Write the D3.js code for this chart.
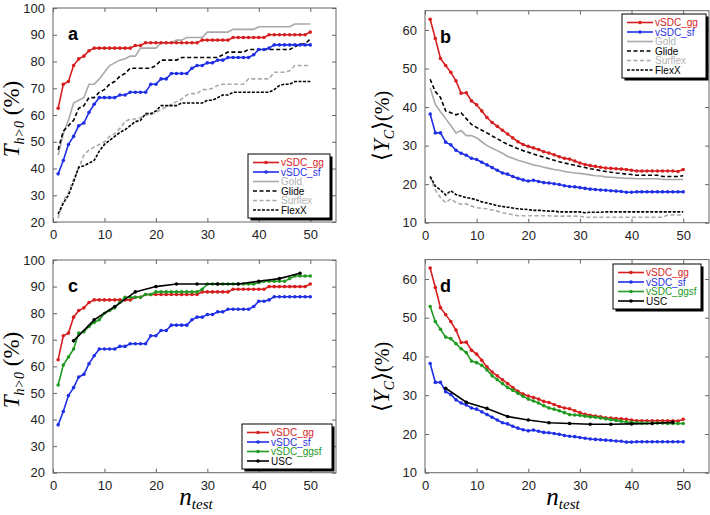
<!DOCTYPE html>
<html><head><meta charset="utf-8">
<script src="https://cdn.jsdelivr.net/npm/d3@7"></script>
<style>body{margin:0;background:#fff}svg{display:block}</style>
</head><body>
<svg id="c" width="710" height="515"></svg>
<script>
// ---------- DATA ----------
const nTest = d3.range(1, 51);
const uscN = [4, 8, 12, 16, 20, 24, 28, 32, 36, 40, 44, 48];

// Panel a / c : T_{h>0} (%)
const thGG = [62.5,71.5,72.5,78.5,81,82,84,85,85,85,85,85,85,85,85,86,86,87,87,87,87,87,87,87,87,87,87,87,88,88,88,88,88,88,89,89,89,89,89,89,89,90,90,90,90,90,90,90,90,91];
const thSF = [38,43,49,52,56,57,61,64,66.5,66.5,66.5,66.5,67.5,67.5,68.5,68.5,68.5,68.5,71.5,71.5,73.5,73.5,75.5,75.5,75.5,75.5,77.5,78.5,78.5,79.5,79.5,80.5,80.5,81.5,81.5,81.5,81.5,81.5,82.5,84.5,84.5,85,86.2,86.2,86.2,86.2,86.2,86.2,86.2,86.2];
const thGold = [45,53,58,64.5,65.5,66.5,71.5,71.5,73.5,76,78.5,79.5,80.5,81,82,82,85,85,85,85,87,87,87,88,88,89,89,89,89,91,91,91,91,91,92,92,92,92,92,93,93,93,93,93,93,93,94,94,94,94];
const thGlide = [47,54,56,58,62.5,63.5,66.5,66.5,68.5,69.5,71.5,72.5,74.5,75.5,77.5,77.5,77.5,77.5,77.5,78.5,80.5,80.5,80.5,80.5,81.5,81.5,81.5,81.5,81.5,81.5,81.5,81.5,82.5,83.5,83.5,83.5,83.5,84.5,84.5,84.5,84.5,84.5,84.5,84.5,84.5,84.5,85.5,86.5,86.5,88.5];
const thSurflex = [21.5,28,31,36,40,45,47,48,49,50,52,53,55,57.5,58.5,58.5,59,60,60,61,62,63,64,65,66,67.5,68,68,69.5,69.5,70,71,71.5,71.5,71.5,71.5,71.5,73.5,73.5,73.5,73.5,73.5,76,76,76,76.5,78.5,78.5,78.5,78.5];
const thFlexX = [23,27,30,35,40.5,41,42,43,46.5,49,50.5,52,53.5,54.5,56,57.5,58,60.5,60.5,61.5,63.5,63.5,63.5,63.5,64.5,64.5,64.5,64.5,64.5,65.5,65.5,66.5,67.5,67.5,68.5,68.5,68.5,68.5,68.5,68.5,68.5,68.5,69.5,71,71.5,71.5,72.5,72.5,72.5,72.5];
const thGGSF = [53,60.5,63.5,66.5,72.5,73,75,76.5,77.5,80,81,82,84,86,86,86,86,87,87,88,88,88,88,88,88,88,88,88,89,91,91,91,91,91,91,91,91,91,91,91.5,92,92,92,92,92,93,94,94,94,94];
const thUSC = [69.6,77.5,82.5,88,90,91,91,91,91,92,93,95];

// Panel b / d : <Y_C> (%)
const ycGG = [62.8,57.8,52.6,50.8,49,46.8,43.6,43.7,41.6,40.6,39,37.3,36,35,34,33,32,31,30.3,29.8,29.4,29,28.4,28.1,27.6,27.1,26.7,26.5,26,25.5,25.1,24.8,24.6,24.4,24.2,24.1,24,23.9,23.8,23.6,23.4,23.4,23.4,23.4,23.4,23.4,23.4,23.4,23.3,23.8];
const ycSF = [38.2,33.3,33.3,30.9,30.2,28.8,28,27.5,26.7,26.4,25.7,25,24.3,23.6,22.9,22.6,22,21.5,21.1,20.8,21,20.7,20.4,20.3,20.1,19.9,19.6,19.4,19.3,19.1,18.9,18.7,18.6,18.5,18.4,18.3,18.2,18.1,17.9,17.9,18,18,18,18,18,18,18,18,18,18];
const ycGold = [45,40.7,38.8,37,35.2,33.3,33.9,32.6,32.6,32,31,30,29.3,28.7,28,27.2,26.7,26.2,25.8,25.4,25,24.7,24.4,24.1,23.8,23.6,23.3,23.1,22.9,22.8,22.6,22.4,22.2,22.1,21.9,21.8,21.7,21.6,21.5,21.5,21.4,21.4,21.4,21.4,21.4,21.2,21.2,21.2,21.2,21.2];
const ycGlide = [47.2,44,42.5,39,38.5,38,38.5,37,35.5,34.7,34,33.3,32.5,31.8,31,30.3,29.8,29.2,28.7,28.3,27.8,27.4,27,26.6,26.2,25.8,25.5,25.2,24.9,24.6,24.3,24,23.8,23.5,23.3,23.1,22.9,22.8,22.6,22.5,22.3,22.3,22.3,22.3,22.3,22,22,22,22,22.2];
const ycFlexX = [22,19.5,18.5,17.2,18.3,17.3,16.9,16.5,16.3,15.9,15.4,15.1,14.8,14.4,14.2,14,13.8,13.6,13.5,13.4,13.2,13.2,13.1,13,13,12.8,12.8,12.8,12.8,12.8,12.6,12.7,12.7,12.7,12.8,12.8,12.8,12.8,12.8,12.8,12.8,12.8,12.8,12.8,12.8,12.8,12.8,12.8,12.8,12.8];
const ycSurflex = [21.8,18.5,16.5,15.2,16.2,15.2,14.8,14.9,14.3,13.9,13.7,13.6,13.3,13,12.6,12.3,12.1,11.8,11.8,11.8,11.8,11.8,11.8,11.8,11.7,11.7,11.7,11.7,11.7,11.7,11.4,11.4,11.4,11.4,11.4,11.4,11.4,11.4,11.4,11.4,11.4,11.4,11.4,11.4,11.4,11.4,12,12,12,12];
const ycGGSF = [52.9,49,47,45,44.6,43.3,42,41,38.8,38.4,37.7,36.5,35,34,33,32,31.3,30.5,29.7,29,28.5,28,27.3,26.7,26.4,26,25.5,25,24.9,24.8,24.6,24.4,24.3,24.1,23.9,23.7,23.5,23.3,23.1,23,22.9,22.8,22.8,22.8,22.8,22.8,22.7,22.7,22.7,22.7];
const ycUSC = [31.8,28.2,26.6,24.5,23.6,22.9,22.7,22.5,22.5,22.6,22.7,23];

const xTicks = [0, 10, 20, 30, 40, 50];
const thTicks = [20, 30, 40, 50, 60, 70, 80, 90, 100];
const ycTicks = [10, 20, 30, 40, 50, 60];

// ---------- STYLES ----------
const RED = "#d71e1e", BLUE = "#1f2fe6", GREEN = "#219a21", GRAY = "#a9a9a9", BLACK = "#000";
const sty = {
  gg:    {name: "vSDC_gg",   color: RED,   text: RED,   dash: null, marker: true},
  sf:    {name: "vSDC_sf",   color: BLUE,  text: BLUE,  dash: null, marker: true},
  gold:  {name: "Gold",      color: GRAY,  text: "#b4b4b4", dash: null, marker: false},
  glide: {name: "Glide",     color: BLACK, text: BLACK, dash: "4,2.5", marker: false},
  surf:  {name: "Surflex",   color: GRAY,  text: "#b4b4b4", dash: "4,2.5", marker: false},
  flexx: {name: "FlexX",     color: BLACK, text: BLACK, dash: "3,1.5", marker: false},
  ggsf:  {name: "vSDC_ggsf", color: GREEN, text: GREEN, dash: null, marker: true},
  usc:   {name: "USC",       color: BLACK, text: BLACK, dash: null, marker: true}
};

const svg = d3.select("#c");
const FONT = "'Liberation Sans', Arial, Helvetica, sans-serif";
const SERIF = "'Liberation Serif', 'Times New Roman', serif";

function panel(o) {
  const x = d3.scaleLinear().domain([0, 55]).range([o.left, o.right]);
  const y = d3.scaleLinear().domain(o.yDomain).range([o.bottom, o.top]);
  const g = svg.append("g");
  g.append("rect").attr("x", o.left).attr("y", o.top)
    .attr("width", o.right - o.left).attr("height", o.bottom - o.top)
    .attr("fill", "none").attr("stroke", "#666").attr("stroke-width", 1);
  const axB = g.append("g").attr("transform", `translate(0,${o.bottom})`)
    .call(d3.axisBottom(x).tickValues(xTicks).tickSizeInner(-4).tickSizeOuter(0).tickPadding(8));
  const axT = g.append("g").attr("transform", `translate(0,${o.top})`)
    .call(d3.axisTop(x).tickValues(xTicks).tickSizeInner(-4).tickSizeOuter(0).tickFormat(""));
  const axL = g.append("g").attr("transform", `translate(${o.left},0)`)
    .call(d3.axisLeft(y).tickValues(o.yTicks).tickSizeInner(-4).tickSizeOuter(0).tickPadding(8));
  const axR = g.append("g").attr("transform", `translate(${o.right},0)`)
    .call(d3.axisRight(y).tickValues(o.yTicks).tickSizeInner(-4).tickSizeOuter(0).tickFormat(""));
  [axB, axT, axL, axR].forEach(a => {
    a.select(".domain").remove();
    a.selectAll("line").attr("stroke", "#666");
    a.selectAll("text").attr("font-family", FONT).attr("font-size", 13).attr("fill", "#222");
  });
  const cid = "clip" + o.label;
  g.append("clipPath").attr("id", cid).append("rect")
    .attr("x", o.left).attr("y", o.top).attr("width", o.right - o.left).attr("height", o.bottom - o.top);
  const dg = g.append("g").attr("clip-path", `url(#${cid})`);
  o.series.forEach(s => {
    const st = sty[s.key];
    const xs = s.xs || nTest;
    const pts = xs.map((n, i) => [n, s.vals[i]]);
    dg.append("path").datum(pts)
      .attr("fill", "none").attr("stroke", st.color).attr("stroke-width", 1.6)
      .attr("stroke-dasharray", st.dash)
      .attr("d", d3.line().x(d => x(d[0])).y(d => y(d[1])));
    if (st.marker) {
      dg.selectAll(null).data(pts).enter().append("circle")
        .attr("cx", d => x(d[0])).attr("cy", d => y(d[1])).attr("r", 1.8)
        .attr("fill", st.color);
    }
  });
  g.append("text").attr("x", o.left + 15).attr("y", o.top + 32)
    .attr("font-family", FONT).attr("font-weight", "bold").attr("font-size", 18)
    .text(o.label);
  const L = o.legend;
  const rowH = L.rowH;
  const lh = L.keys.length * rowH + 7;
  const lg = g.append("g");
  lg.append("rect").attr("x", L.x + 2.5).attr("y", L.y + 2.5).attr("width", L.w).attr("height", lh).attr("fill", "#000");
  lg.append("rect").attr("x", L.x).attr("y", L.y).attr("width", L.w).attr("height", lh)
    .attr("fill", "#fff").attr("stroke", "#000").attr("stroke-width", 1);
  L.keys.forEach((k, i) => {
    const st = sty[k];
    const yy = L.y + 8.5 + i * rowH;
    lg.append("line").attr("x1", L.x + 5).attr("x2", L.x + 5 + L.lineW).attr("y1", yy).attr("y2", yy)
      .attr("stroke", st.color).attr("stroke-width", 1.6).attr("stroke-dasharray", st.dash);
    if (st.marker) lg.append("circle").attr("cx", L.x + 5 + L.lineW / 2).attr("cy", yy).attr("r", 1.8).attr("fill", st.color);
    lg.append("text").attr("x", L.x + 7 + L.lineW).attr("y", yy + 3.5)
      .attr("font-family", FONT).attr("font-size", 10).attr("fill", st.text).text(st.name);
  });
  return {x, y, g};
}

function thLabel(cx, cy) {
  const t = svg.append("text").attr("transform", `translate(${cx},${cy}) rotate(-90)`)
    .attr("text-anchor", "middle").attr("font-family", SERIF).attr("font-size", 23);
  t.append("tspan").attr("font-style", "italic").text("T");
  t.append("tspan").attr("font-style", "italic").attr("font-size", 14).attr("dy", 5).text("h>0");
  t.append("tspan").attr("dy", -5).text(" (%)");
}
function ycLabel(cx, cy) {
  const t = svg.append("text").attr("transform", `translate(${cx},${cy}) rotate(-90)`)
    .attr("text-anchor", "middle").attr("font-family", SERIF).attr("font-size", 23);
  t.append("tspan").text("\u27E8");
  t.append("tspan").attr("font-style", "italic").text("Y");
  t.append("tspan").attr("font-style", "italic").attr("font-size", 14).attr("dy", 5).text("C");
  t.append("tspan").attr("dy", -5).text("\u27E9");
  t.append("tspan").attr("font-size", 20).text("(%)");
}
function nLabel(cx, cy) {
  const t = svg.append("text").attr("x", cx).attr("y", cy)
    .attr("text-anchor", "middle").attr("font-family", SERIF).attr("font-style", "italic").attr("font-size", 25);
  t.append("tspan").text("n");
  t.append("tspan").attr("font-size", 15).attr("dy", 4).text("test");
}

// ---------- PANELS ----------
panel({label: "a", left: 53, right: 336, top: 8, bottom: 222, yDomain: [20, 100], yTicks: thTicks,
  series: [{key: "gold", vals: thGold}, {key: "surf", vals: thSurflex}, {key: "glide", vals: thGlide},
           {key: "flexx", vals: thFlexX}, {key: "sf", vals: thSF}, {key: "gg", vals: thGG}],
  legend: {x: 248, y: 154, w: 82, rowH: 9.5, lineW: 26, keys: ["gg", "sf", "gold", "glide", "surf", "flexx"]}});
panel({label: "b", left: 425, right: 709, top: 10.7, bottom: 222.7, yDomain: [10, 65], yTicks: ycTicks,
  series: [{key: "gold", vals: ycGold}, {key: "surf", vals: ycSurflex}, {key: "glide", vals: ycGlide},
           {key: "flexx", vals: ycFlexX}, {key: "sf", vals: ycSF}, {key: "gg", vals: ycGG}],
  legend: {x: 622, y: 14, w: 84, rowH: 9.5, lineW: 26, keys: ["gg", "sf", "gold", "glide", "surf", "flexx"]}});
panel({label: "c", left: 53, right: 336, top: 260, bottom: 472.7, yDomain: [20, 100], yTicks: thTicks,
  series: [{key: "sf", vals: thSF}, {key: "gg", vals: thGG}, {key: "ggsf", vals: thGGSF}, {key: "usc", vals: thUSC, xs: uscN}],
  legend: {x: 242, y: 424, w: 90, rowH: 9.5, lineW: 22, keys: ["gg", "sf", "ggsf", "usc"]}});
panel({label: "d", left: 425, right: 709, top: 259.6, bottom: 472.7, yDomain: [10, 65], yTicks: ycTicks,
  series: [{key: "sf", vals: ycSF}, {key: "gg", vals: ycGG}, {key: "ggsf", vals: ycGGSF}, {key: "usc", vals: ycUSC, xs: uscN}],
  legend: {x: 613, y: 264, w: 88, rowH: 9.5, lineW: 26, keys: ["gg", "sf", "ggsf", "usc"]}});

thLabel(19, 119);
thLabel(19, 370);
ycLabel(389, 126);
ycLabel(389, 377);
nLabel(196, 505);
nLabel(563, 505);
</script>
</body></html>
